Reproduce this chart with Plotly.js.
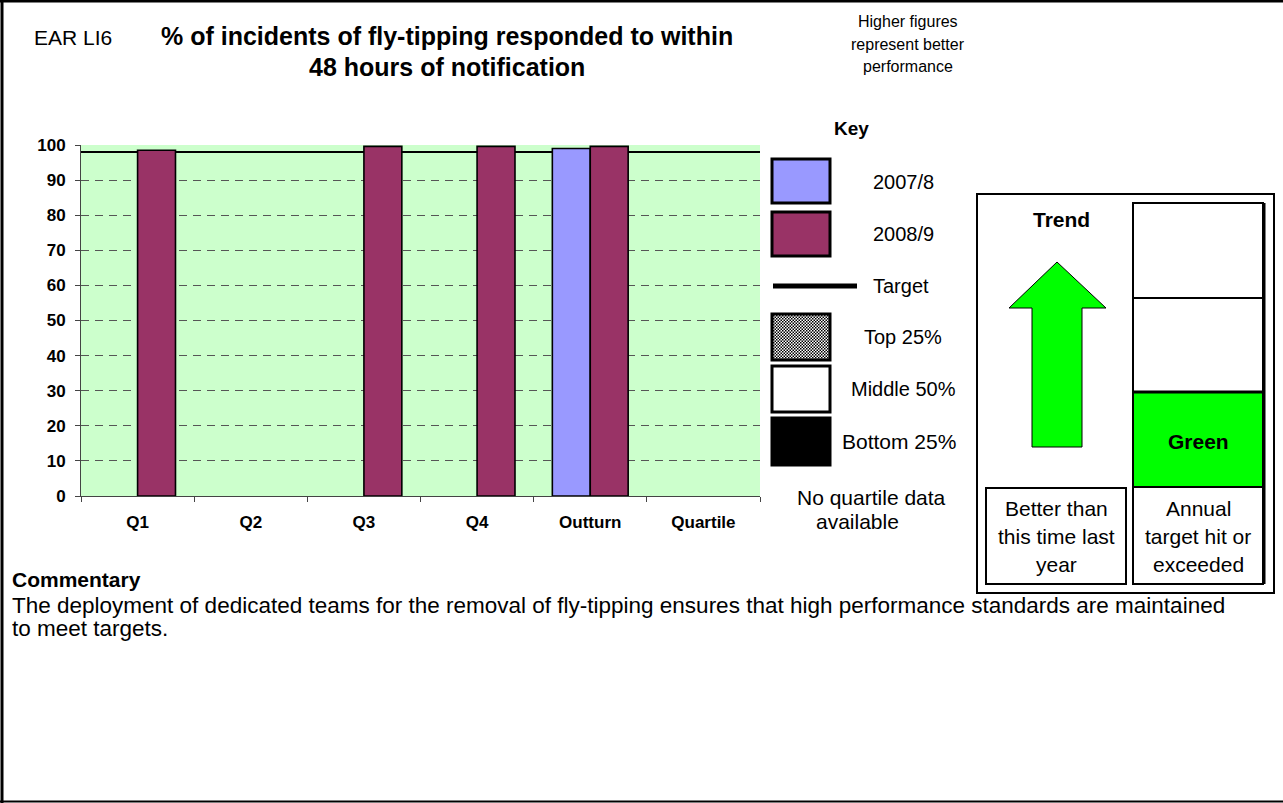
<!DOCTYPE html>
<html>
<head>
<meta charset="utf-8">
<script src="https://cdn.plot.ly/plotly-3.0.1.min.js"></script>
<style>html,body{margin:0;padding:0;background:#fff;}#chart{width:1283px;height:803px;}</style>
</head>
<body>
<div id="chart"></div>
<script>
// ---- data ----
var categories = ['Q1', 'Q2', 'Q3', 'Q4', 'Outturn', 'Quartile'];
var values2007 = [null, null, null, null, 99.0, null];
var values2008 = [98.5, null, 99.6, 99.6, 99.6, null];
var targetValue = [98];
var yTicks = [0, 10, 20, 30, 40, 50, 60, 70, 80, 90, 100];
var seriesNames = ['2007/8', '2008/9'];

// ---- layout helpers (pixel -> paper) ----
var L = 81, T = 145, W = 679, H = 351;
function X(px) { return (px - L) / W; }
function Y(py) { return (T + H - py) / H; }
var FONT = 'Liberation Sans, Arial, sans-serif';

function rect(x0, y0, x1, y1, fill, lw) {
  return {type: 'rect', xref: 'paper', yref: 'paper', x0: X(x0), x1: X(x1), y0: Y(y0), y1: Y(y1),
    fillcolor: fill, line: {color: '#000', width: lw}, layer: 'above'};
}
function line(x0, y0, x1, y1, lw) {
  return {type: 'line', xref: 'paper', yref: 'paper', x0: X(x0), x1: X(x1), y0: Y(y0), y1: Y(y1),
    line: {color: '#000', width: lw}, layer: 'above'};
}
function txt(x, y, s, size, bold, anchor) {
  return {xref: 'paper', yref: 'paper', x: X(x), y: Y(y), text: bold ? '<b>' + s + '</b>' : s,
    showarrow: false, xanchor: anchor || 'center', yanchor: 'middle',
    font: {family: FONT, size: size, color: '#000'}};
}

var traces = [
  {type: 'bar', name: seriesNames[0], x: categories, y: values2007,
   marker: {color: '#9999FF', line: {color: '#000', width: 1.6}}, hoverinfo: 'x+y'},
  {type: 'bar', name: seriesNames[1], x: categories, y: values2008,
   marker: {color: '#993366', line: {color: '#000', width: 1.6}}, hoverinfo: 'x+y'}
];

var arrowPath = 'M ' + X(1057) + ' ' + Y(262) + ' L ' + X(1106) + ' ' + Y(308) + ' L ' + X(1082) + ' ' + Y(308) +
  ' L ' + X(1082) + ' ' + Y(447) + ' L ' + X(1032) + ' ' + Y(447) + ' L ' + X(1032) + ' ' + Y(308) +
  ' L ' + X(1009) + ' ' + Y(308) + ' Z';

var shapes = [
  // target line
  {type: 'line', xref: 'paper', yref: 'y', x0: 0, x1: 1, y0: targetValue[0], y1: targetValue[0],
   line: {color: '#000', width: 2}, layer: 'between'},
  // outer frame
  line(2, 0, 2, 803, 3),
  line(0, 1, 1283, 1, 3),
  line(0, 801.5, 1283, 801.5, 2),
  // key swatches
  rect(772, 159, 830, 203, '#9999FF', 3),
  rect(772, 212, 830, 256, '#993366', 3),
  line(773, 286, 857, 286, 5),
  rect(772, 314, 830, 360, 'rgba(0,0,0,0)', 3),
  rect(772, 366, 830, 412, '#ffffff', 3),
  rect(772, 418, 830, 465, '#000000', 3),
  // trend box
  rect(977, 194, 1274, 593, 'rgba(0,0,0,0)', 2),
  {type: 'path', xref: 'paper', yref: 'paper', path: arrowPath, fillcolor: '#00FF00',
   line: {color: '#000', width: 1}, layer: 'above'},
  rect(986, 488, 1126, 584, '#ffffff', 2),
  rect(1133, 203, 1263, 298, '#ffffff', 2),
  rect(1133, 298, 1263, 392, '#ffffff', 2),
  rect(1133, 392, 1263, 487, '#00FF00', 2),
  rect(1133, 487, 1263, 584, '#ffffff', 2),
  line(1133, 392, 1263, 392, 3),
  line(1264, 203, 1264, 584, 3)
];

// dotted pattern for the "Top 25%" swatch
var patSvg = "<svg xmlns='http://www.w3.org/2000/svg' width='56' height='44'><defs><pattern id='p' width='3' height='3' patternUnits='userSpaceOnUse'>" +
  "<rect width='3' height='3' fill='#ffffff'/><rect width='1.5' height='1.5' fill='#000'/><rect x='1.5' y='1.5' width='1.5' height='1.5' fill='#000'/></pattern></defs>" +
  "<rect width='56' height='44' fill='#999'/><rect width='56' height='44' fill='url(#p)'/></svg>";
var images = [{
  source: 'data:image/svg+xml;charset=utf-8,' + encodeURIComponent(patSvg),
  xref: 'paper', yref: 'paper', x: X(773), y: Y(315), sizex: X(829) - X(773), sizey: Y(315) - Y(359),
  xanchor: 'left', yanchor: 'top', sizing: 'stretch', layer: 'above'
}];

var annotations = [
  txt(73, 37, 'EAR LI6', 21, false),
  txt(447, 36, '% of incidents of fly-tipping responded to within', 25, true),
  txt(447, 67, '48 hours of notification', 25, true),
  txt(908, 21, 'Higher figures', 16, false),
  txt(908, 44, 'represent better', 16, false),
  txt(908, 67, 'performance', 16, false),
  txt(851, 128, 'Key', 19, true),
  txt(904, 182, seriesNames[0], 20, false),
  txt(904, 234, seriesNames[1], 20, false),
  txt(871, 286, 'Target', 20, false, 'left'),
  txt(903, 337, 'Top 25%', 20, false),
  txt(903, 389, 'Middle 50%', 20, false),
  txt(899, 441, 'Bottom 25%', 21, false),
  txt(871, 497, 'No quartile data', 21, false),
  txt(857, 521, 'available', 21, false),
  txt(1061, 219, 'Trend', 21, true),
  txt(1198, 441, 'Green', 21, true),
  txt(1056, 508, 'Better than', 21, false),
  txt(1056, 536, 'this time last', 21, false),
  txt(1056, 564, 'year', 21, false),
  txt(1198, 508, 'Annual', 21, false),
  txt(1198, 536, 'target hit or', 21, false),
  txt(1198, 564, 'exceeded', 21, false),
  txt(10, 579, 'Commentary', 21, true, 'left'),
  txt(10, 605, 'The deployment of dedicated teams for the removal of fly-tipping ensures that high performance standards are maintained', 22.5, false, 'left'),
  txt(10, 628, 'to meet targets.', 22.5, false, 'left')
];

var layout = {
  width: 1283, height: 803,
  margin: {l: L, r: 1283 - L - W, t: T, b: 803 - T - H, pad: 0},
  paper_bgcolor: '#ffffff', plot_bgcolor: '#CCFFCC',
  showlegend: false,
  barmode: 'group', bargap: 0.33, bargroupgap: 0,
  font: {family: FONT, color: '#000'},
  xaxis: {type: 'category', categoryarray: categories, tickson: 'boundaries', ticks: 'outside', ticklen: 5,
    tickcolor: '#444', showline: true, linecolor: '#444', linewidth: 1, showgrid: false,
    tickfont: {family: FONT, size: 17, color: '#000', weight: 'bold'}, ticklabelstandoff: 11, fixedrange: true},
  yaxis: {range: [0, 100], tickvals: yTicks, ticktext: yTicks.map(String), ticks: 'outside', ticklen: 5,
    tickcolor: '#444', showline: true, linecolor: '#444', linewidth: 1,
    showgrid: true, gridcolor: '#555', griddash: '8px,6px', gridwidth: 1, zeroline: false,
    tickfont: {family: FONT, size: 17, color: '#000', weight: 'bold'}, ticklabelstandoff: 6, fixedrange: true},
  shapes: shapes,
  images: images,
  annotations: annotations
};

Plotly.newPlot('chart', traces, layout, {displayModeBar: false, staticPlot: true});
</script>
</body>
</html>
